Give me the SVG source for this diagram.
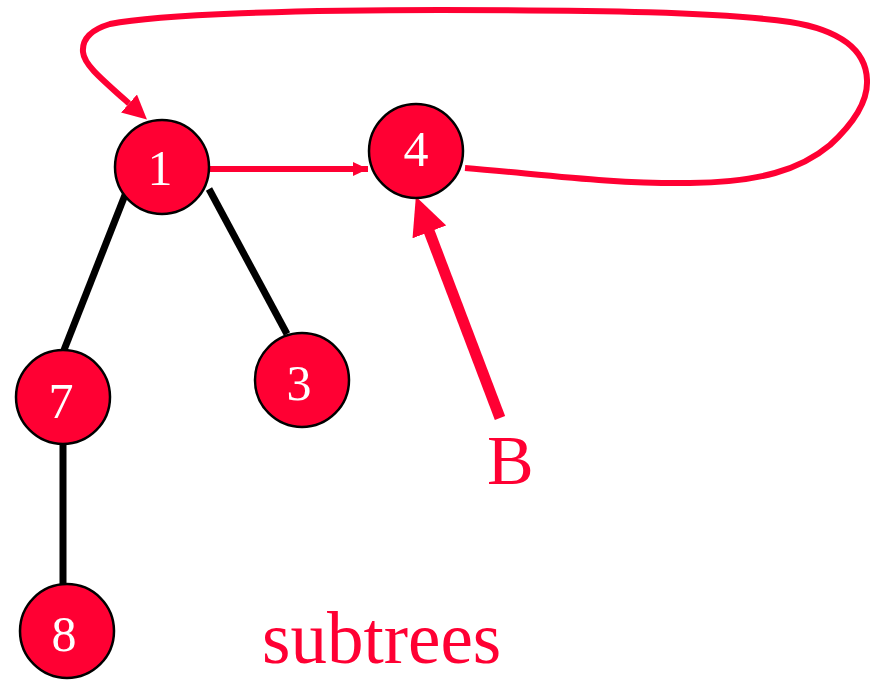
<svg xmlns="http://www.w3.org/2000/svg" width="873" height="680" viewBox="0 0 873 680">
  <style>
    .node circle { fill: #FF0033; stroke: #000; stroke-width: 2.5; }
    .node text { fill: #fff; font-family: "Liberation Serif", "Times New Roman", serif; font-size: 50px; text-anchor: middle; }
    .edge { stroke: #000; stroke-width: 7; fill: none; }
    .ptr { stroke: #FF0033; fill: none; }
    .label { fill: #FF0033; font-family: "Liberation Serif", "Times New Roman", serif; }
  </style>
  <defs>
    <marker id="head-small" markerUnits="userSpaceOnUse" viewBox="0 0 15 14" refX="15" refY="7" markerWidth="15" markerHeight="14" orient="auto">
      <path d="M0,0 L15,7 L0,14 Z" fill="#FF0033"/>
    </marker>
    <marker id="head-mid" markerUnits="userSpaceOnUse" viewBox="0 0 24 24" refX="0" refY="12" markerWidth="24" markerHeight="24" orient="auto">
      <path d="M0,0 L24,12 L0,24 Z" fill="#FF0033"/>
    </marker>
    <marker id="head-big" markerUnits="userSpaceOnUse" viewBox="0 0 38 36" refX="1" refY="18" markerWidth="38" markerHeight="36" orient="auto">
      <path d="M0,0 L38,18 L0,36 Z" fill="#FF0033"/>
    </marker>
  </defs>

  <g id="connectors">
    <!-- tree edges -->
    <line class="edge" x1="127" y1="190" x2="64" y2="350"/>
    <line class="edge" x1="209" y1="189" x2="287" y2="334"/>
    <line class="edge" x1="63" y1="444" x2="63" y2="588"/>
    <!-- pointer 1 -> 4 -->
    <line class="ptr" stroke-width="6" x1="209" y1="169" x2="368" y2="169" marker-end="url(#head-small)"/>
    <!-- wrap-around pointer 4 -> 1 -->
    <path class="ptr" stroke-width="6" marker-end="url(#head-mid)"
          d="M465,168 C540,174 610,184 690,183 C760,182 800,170 830,145 C855,122 868,100 867,80 C866,50 840,30 790,22 C720,12 600,10 440,10 C300,10 160,14 110,24 C90,30 82,40 83,52 C84,64 98,76 129,103.5"/>
    <!-- B pointer -->
    <line class="ptr" stroke-width="11" x1="500" y1="418" x2="429" y2="231" marker-end="url(#head-big)"/>
  </g>

  <g id="node-1" class="node">
    <circle cx="162" cy="167" r="47"/>
    <text x="160" y="185">1</text>
  </g>
  <g id="node-4" class="node">
    <circle cx="416" cy="151" r="47"/>
    <text x="416" y="166">4</text>
  </g>
  <g id="node-7" class="node">
    <circle cx="63" cy="397" r="47"/>
    <text x="61" y="418">7</text>
  </g>
  <g id="node-3" class="node">
    <circle cx="302" cy="380" r="47"/>
    <text x="299" y="400">3</text>
  </g>
  <g id="node-8" class="node">
    <circle cx="67" cy="631" r="47"/>
    <text x="64" y="651">8</text>
  </g>

  <text class="label" x="487" y="484" font-size="70">B</text>
  <text class="label" x="262" y="663" font-size="73">subtrees</text>
</svg>
